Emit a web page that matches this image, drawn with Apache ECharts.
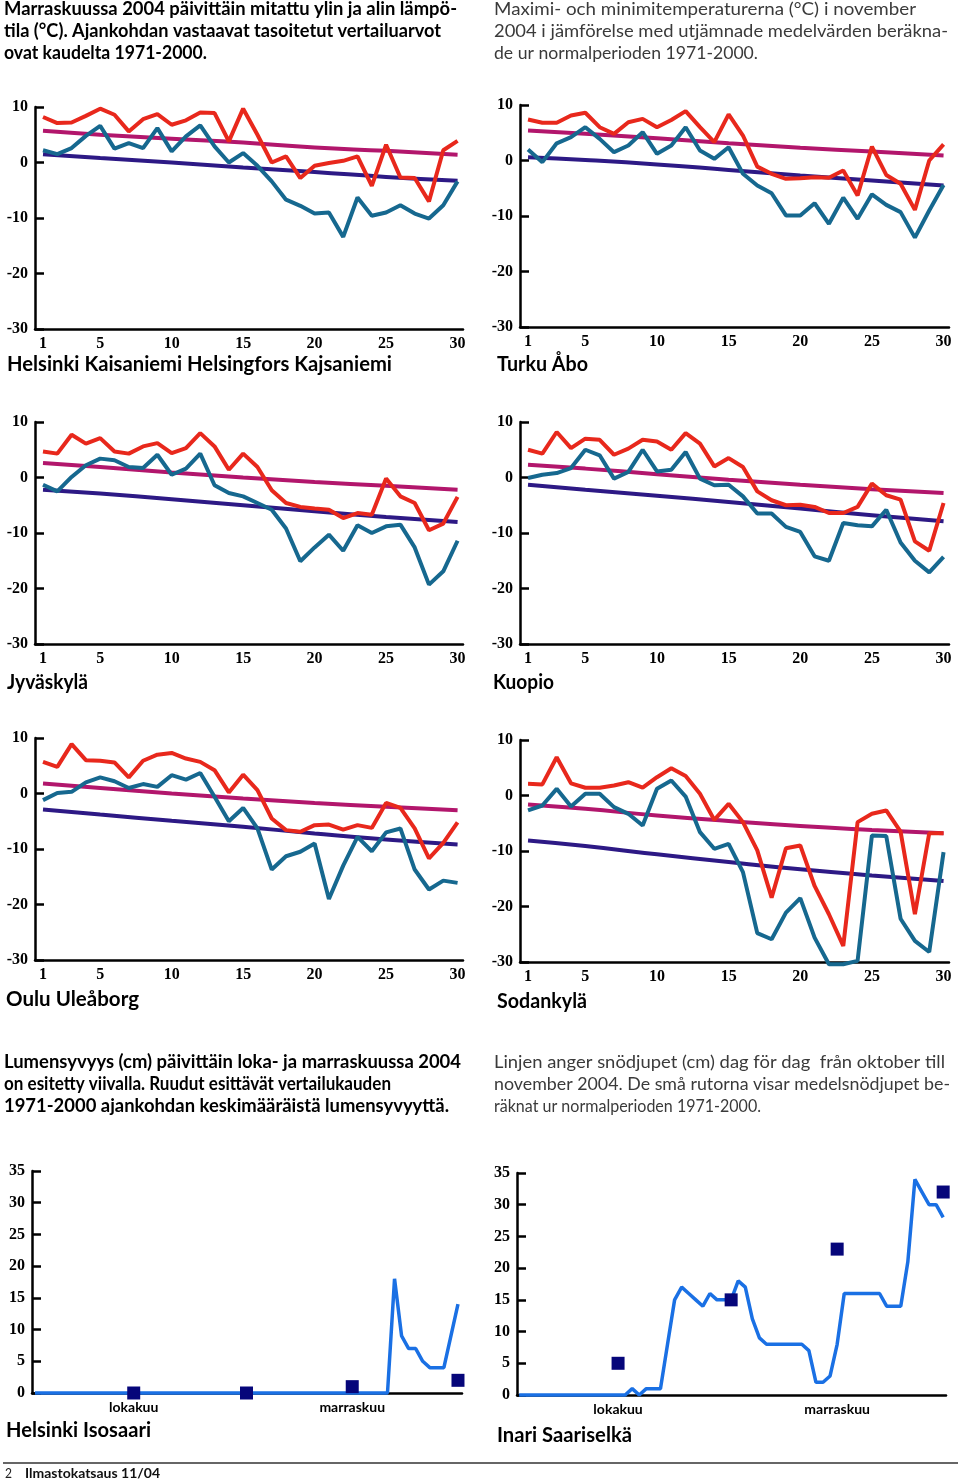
<!DOCTYPE html>
<html><head><meta charset="utf-8">
<script src="https://cdn.jsdelivr.net/npm/echarts@6.0.0/dist/echarts.min.js"></script>
<style>html,body{margin:0;padding:0;background:#fff}#c{width:960px;height:1481px}</style>
</head><body><div id="c"></div>
<script>
// ---------- DATA ----------
const days = [1,2,3,4,5,6,7,8,9,10,11,12,13,14,15,16,17,18,19,20,21,22,23,24,25,26,27,28,29,30];
const dayTickLabels = [1,5,10,15,20,25,30];
const normDays = [1,5,10,15,20,25,30];
const tempTicks = [-30,-20,-10,0,10];

const helsinkiMax = [8.2,7.1,7.2,8.4,9.7,8.6,5.6,7.8,8.7,6.8,7.6,9.0,8.9,3.8,9.7,5.0,0.0,1.1,-2.8,-0.6,-0.1,0.3,1.1,-4.2,3.2,-2.7,-2.8,-7.0,2.2,3.9];
const helsinkiMin = [2.2,1.5,2.6,4.8,6.6,2.5,3.5,2.6,6.2,2.0,4.7,6.7,2.9,0.0,1.7,-0.6,-3.4,-6.7,-7.8,-9.2,-9.0,-13.4,-6.3,-9.6,-9.0,-7.7,-9.2,-10.1,-7.7,-3.4];
const helsinkiNormMax = [5.7,5.0,4.3,3.6,2.7,2.1,1.4];
const helsinkiNormMin = [1.5,0.8,0.0,-0.9,-1.7,-2.6,-3.3];

const turkuMax = [7.4,6.8,6.8,8.1,8.6,6.0,4.8,6.9,7.5,6.0,7.3,8.9,6.0,3.3,8.3,4.5,-1.1,-2.4,-3.3,-3.2,-3.0,-3.1,-1.8,-6.3,2.5,-2.6,-4.2,-8.9,0.0,2.9];
const turkuMin = [2.0,-0.3,3.1,4.2,6.0,3.9,1.5,2.7,5.1,1.2,2.7,6.0,1.8,0.3,2.4,-2.4,-4.5,-5.9,-9.9,-9.9,-7.7,-11.4,-6.7,-10.5,-6.1,-8.0,-9.3,-13.9,-9.0,-4.4];
const turkuNormMax = [5.4,4.8,4.0,3.1,2.3,1.6,0.9];
const turkuNormMin = [0.6,0.1,-0.7,-1.7,-2.7,-3.6,-4.5];

const jyvaskylaMax = [4.7,4.3,7.7,6.1,7.1,4.7,4.3,5.6,6.2,4.4,5.3,8.0,5.6,1.4,4.3,1.9,-2.3,-4.6,-5.3,-5.6,-5.8,-7.3,-6.4,-6.7,-0.2,-3.4,-4.6,-9.5,-8.3,-3.5];
const jyvaskylaMin = [-1.3,-2.5,0.1,2.2,3.4,3.1,1.9,1.7,4.1,0.5,1.6,4.3,-1.4,-2.8,-3.4,-4.6,-5.8,-9.2,-15.1,-12.6,-10.3,-13.2,-8.6,-10.0,-8.8,-8.5,-12.6,-19.3,-16.9,-11.4];
const jyvaskylaNormMax = [2.6,1.9,0.9,0.0,-0.8,-1.5,-2.2];
const jyvaskylaNormMin = [-2.2,-2.9,-3.9,-5.0,-6.1,-7.1,-8.0];

const kuopioMax = [5.0,4.3,8.2,5.3,7.0,6.8,4.1,5.2,6.8,6.5,5.0,8.0,6.1,2.0,3.5,1.9,-2.5,-4.1,-5.0,-4.9,-5.3,-6.4,-6.4,-5.3,-1.1,-3.2,-4.0,-11.5,-13.2,-4.6];
const kuopioMin = [-0.1,0.5,0.8,1.7,5.0,4.0,-0.2,1.0,5.0,1.1,1.4,4.6,-0.2,-1.4,-1.3,-3.4,-6.5,-6.5,-8.9,-9.8,-14.2,-15.0,-8.2,-8.6,-8.8,-5.8,-11.7,-15.0,-17.1,-14.3];
const kuopioNormMax = [2.3,1.6,0.6,-0.4,-1.3,-2.1,-2.8];
const kuopioNormMin = [-1.3,-2.2,-3.3,-4.4,-5.6,-6.8,-7.9];

const ouluMax = [5.7,4.8,8.9,6.0,5.9,5.6,2.9,5.9,7.0,7.3,6.3,5.7,4.2,0.2,3.4,0.6,-4.5,-6.6,-6.9,-5.7,-5.6,-6.5,-5.7,-6.2,-1.7,-2.6,-6.3,-11.7,-8.9,-5.2];
const ouluMin = [-1.2,0.1,0.3,2.0,2.9,2.2,1.0,1.7,1.2,3.3,2.5,3.7,-0.6,-5.0,-2.6,-6.3,-13.7,-11.3,-10.5,-9.0,-19.0,-13.0,-7.8,-10.4,-7.0,-6.3,-13.7,-17.3,-15.7,-16.1];
const ouluNormMax = [1.8,1.0,0.0,-0.9,-1.7,-2.4,-3.0];
const ouluNormMin = [-2.9,-3.8,-4.9,-6.0,-7.2,-8.3,-9.2];

const sodankylaMax = [2.1,2.0,6.9,2.2,1.4,1.4,1.8,2.4,1.4,3.3,4.9,3.5,0.3,-4.4,-1.5,-4.8,-9.9,-18.4,-9.5,-9.0,-16.3,-21.4,-27.1,-4.8,-3.3,-2.7,-6.5,-21.4,-6.8,-6.8];
const sodankylaMin = [-2.7,-1.8,1.2,-2.0,0.3,0.3,-2.1,-3.3,-5.4,1.2,2.7,-0.2,-6.6,-9.6,-8.7,-13.8,-24.8,-25.9,-21.1,-18.5,-25.6,-30.4,-30.4,-29.8,-7.2,-7.3,-22.2,-26.2,-28.2,-10.2];
const sodankylaNormMax = [-1.6,-2.4,-3.6,-4.6,-5.5,-6.2,-6.8];
const sodankylaNormMin = [-8.1,-9.1,-10.6,-12.0,-13.3,-14.4,-15.4];

// snow depth, day index 0 = 1 Oct ... 60 = 30 Nov
const snowTicks = [0,5,10,15,20,25,30,35];
const snowMonthLabels = ['lokakuu','marraskuu'];
const snowMonthIndex = [14,45];
const helsinkiSnow = [0,0,0,0,0,0,0,0,0,0, 0,0,0,0,0,0,0,0,0,0, 0,0,0,0,0,0,0,0,0,0, 0,0,0,0,0,0,0,0,0,0, 0,0,0,0,0,0,0,0,0,0, 0,18,9,7,7,5,4,4,4,9,14];
const inariSnow = [0,0,0,0,0,0,0,0,0,0, 0,0,0,0,0,0,1,0,1,1, 1,8,15,17,16,15,14,16,15,15, 15,18,17,12,9,8,8,8,8,8, 8,7,2,2,3,8,16,16,16,16, 16,16,14,14,14,21,34,32,30,30,28];
const snowNormIndex = [14,30,45,60];
const helsinkiSnowNorm = [0,0,1,2];
const inariSnowNorm = [5,15,23,32];

// ---------- STYLE / LAYOUT ----------
const C = {red:'#e8281c', teal:'#16688f', magenta:'#b2166c', purple:'#2d1985', snow:'#1a70e4', square:'#06067a'};
const serif = 'Liberation Serif';
const tempPanels = [
  {title:'Helsinki Kaisaniemi Helsingfors Kajsaniemi', max:helsinkiMax, min:helsinkiMin, nMax:helsinkiNormMax, nMin:helsinkiNormMin, g:{left:35, top:107, width:428, height:222}, t:{x:7, y:365, w:385}},
  {title:'Turku Åbo', max:turkuMax, min:turkuMin, nMax:turkuNormMax, nMin:turkuNormMin, g:{left:520, top:105, width:429, height:222}, t:{x:497, y:365, w:91}},
  {title:'Jyväskylä', max:jyvaskylaMax, min:jyvaskylaMin, nMax:jyvaskylaNormMax, nMin:jyvaskylaNormMin, g:{left:35, top:422, width:428, height:222}, t:{x:7, y:683, w:81}},
  {title:'Kuopio', max:kuopioMax, min:kuopioMin, nMax:kuopioNormMax, nMin:kuopioNormMin, g:{left:520, top:422, width:429, height:222}, t:{x:493, y:683, w:61}},
  {title:'Oulu Uleåborg', max:ouluMax, min:ouluMin, nMax:ouluNormMax, nMin:ouluNormMin, g:{left:35, top:738, width:428, height:222}, t:{x:6, y:1000, w:133}},
  {title:'Sodankylä', max:sodankylaMax, min:sodankylaMin, nMax:sodankylaNormMax, nMin:sodankylaNormMin, g:{left:520, top:740, width:429, height:222}, t:{x:497, y:1002, w:90}}
];
const snowPanels = [
  {title:'Helsinki Isosaari', line:helsinkiSnow, norm:helsinkiSnowNorm, g:{left:32, top:1171, width:430, height:222}, xr:[-0.43,60.57], t:{x:6, y:1431, w:145}},
  {title:'Inari Saariselkä', line:inariSnow, norm:inariSnowNorm, g:{left:517, top:1173, width:429, height:222}, xr:[-0.3,60.4], t:{x:497, y:1436, w:135}}
];

const ctx = document.createElement('canvas').getContext('2d');
function fit(text, font, w){ ctx.font = font; return w / ctx.measureText(text).width; }
function txt(text, x, y, w, font, fill){
  return {type:'text', x:x, y:y, scaleX: fit(text, font, w), silent:true,
    style:{text:text, font:font, fill:fill||'#000', align:'left', verticalAlign:'middle'}};
}

const grids=[], xAxes=[], yAxes=[], series=[], graphics=[];
const axisLine = {show:true, onZero:false, lineStyle:{color:'#000', width:2.5}};
const tickLabel = {fontFamily:serif, fontWeight:'bold', fontSize:16, color:'#000'};

tempPanels.forEach((p,i)=>{
  grids.push(Object.assign({outerBoundsMode:'none', containLabel:false}, p.g));
  xAxes.push({gridIndex:i, type:'value', min:0.44, max:30.38, axisLine:axisLine, axisTick:{show:false}, splitLine:{show:false},
    axisLabel:Object.assign({customValues:dayTickLabels, margin:7, formatter:v=>String(v)}, tickLabel)});
  yAxes.push({gridIndex:i, type:'value', min:-30, max:10, interval:10, axisLine:axisLine, splitLine:{show:false},
    axisTick:{show:true, inside:true, length:9, lineStyle:{color:'#000', width:2.5}},
    axisLabel:Object.assign({margin:7}, tickLabel)});
  const mk = (arr, xs, color, smooth, z)=>({type:'line', xAxisIndex:i, yAxisIndex:i, data:arr.map((v,k)=>[xs[k], v]),
    showSymbol:false, smooth:smooth, clip:false, z:z, lineStyle:{color:color, width:4}, itemStyle:{color:color}, silent:true, animation:false});
  series.push(mk(p.nMax, normDays, C.magenta, true, 2));
  series.push(mk(p.nMin, normDays, C.purple, true, 2));
  series.push(mk(p.min, days, C.teal, false, 3));
  series.push(mk(p.max, days, C.red, false, 4));
  graphics.push(txt(p.title, p.t.x, p.t.y, p.t.w, 'bold 20px Lato', '#000'));
});

snowPanels.forEach((p,j)=>{
  const i = tempPanels.length + j;
  grids.push(Object.assign({outerBoundsMode:'none', containLabel:false}, p.g));
  xAxes.push({gridIndex:i, type:'value', min:p.xr[0], max:p.xr[1], axisLine:axisLine, axisTick:{show:false}, splitLine:{show:false},
    axisLabel:{customValues:snowMonthIndex, margin:7, formatter:v=>snowMonthLabels[snowMonthIndex.indexOf(v)] || '',
      fontFamily:'Lato', fontWeight:'bold', fontSize:14, color:'#000'}});
  yAxes.push({gridIndex:i, type:'value', min:0, max:35, interval:5, axisLine:axisLine, splitLine:{show:false},
    axisTick:{show:true, inside:true, length:9, lineStyle:{color:'#000', width:2.5}},
    axisLabel:Object.assign({margin:7}, tickLabel)});
  series.push({type:'line', xAxisIndex:i, yAxisIndex:i, data:p.line.map((v,k)=>[k, v]), showSymbol:false, clip:false, z:3,
    lineStyle:{color:C.snow, width:3.5}, silent:true, animation:false});
  series.push({type:'scatter', xAxisIndex:i, yAxisIndex:i, data:p.norm.map((v,k)=>[snowNormIndex[k], v]), symbol:'rect', symbolSize:13,
    itemStyle:{color:C.square, opacity:1}, z:5, silent:true, animation:false});
  graphics.push(txt(p.title, p.t.x, p.t.y, p.t.w, 'bold 20px Lato', '#000'));
});

// body texts
const bold = 'bold 18px Lato', light = '18px Lato', grey = '#3a3a3a';
[
  ['Marraskuussa 2004 päivittäin mitattu ylin ja alin lämpö-', 4, 9, 453],
  ['tila (°C). Ajankohdan vastaavat tasoitetut vertailuarvot', 4, 31, 437],
  ['ovat kaudelta 1971-2000.', 4, 53, 203],
  ['Lumensyvyys (cm) päivittäin loka- ja marraskuussa 2004', 4, 1062, 457],
  ['on esitetty viivalla. Ruudut esittävät vertailukauden', 4, 1084, 387],
  ['1971-2000 ajankohdan keskimääräistä lumensyvyyttä.', 4, 1106, 445]
].forEach(a=>graphics.push(txt(a[0], a[1], a[2], a[3], bold, '#000')));
[
  ['Maximi- och minimitemperaturerna (°C) i november', 494, 9, 422],
  ['2004 i jämförelse med utjämnade medelvärden beräkna-', 494, 31, 454],
  ['de ur normalperioden 1971-2000.', 494, 53, 264],
  ['Linjen anger snödjupet (cm) dag för dag  från oktober till', 494, 1062, 451],
  ['november 2004. De små rutorna visar medelsnödjupet be-', 494, 1084, 456],
  ['räknat ur normalperioden 1971-2000.', 494, 1106, 267]
].forEach(a=>graphics.push(txt(a[0], a[1], a[2], a[3], light, grey)));

// footer
graphics.push({type:'line', silent:true, shape:{x1:3, y1:1463, x2:958, y2:1463}, style:{stroke:'#333', lineWidth:1.5}});
graphics.push(txt('2', 5, 1474, 7, '13px Lato', '#222'));
graphics.push(txt('Ilmastokatsaus 11/04', 25, 1474, 135, 'bold 13px Lato', '#111'));

const chart = echarts.init(document.getElementById('c'), null, {renderer:'canvas'});
chart.setOption({animation:false, backgroundColor:'#fff', grid:grids, xAxis:xAxes, yAxis:yAxes, series:series, graphic:graphics});
</script></body></html>
